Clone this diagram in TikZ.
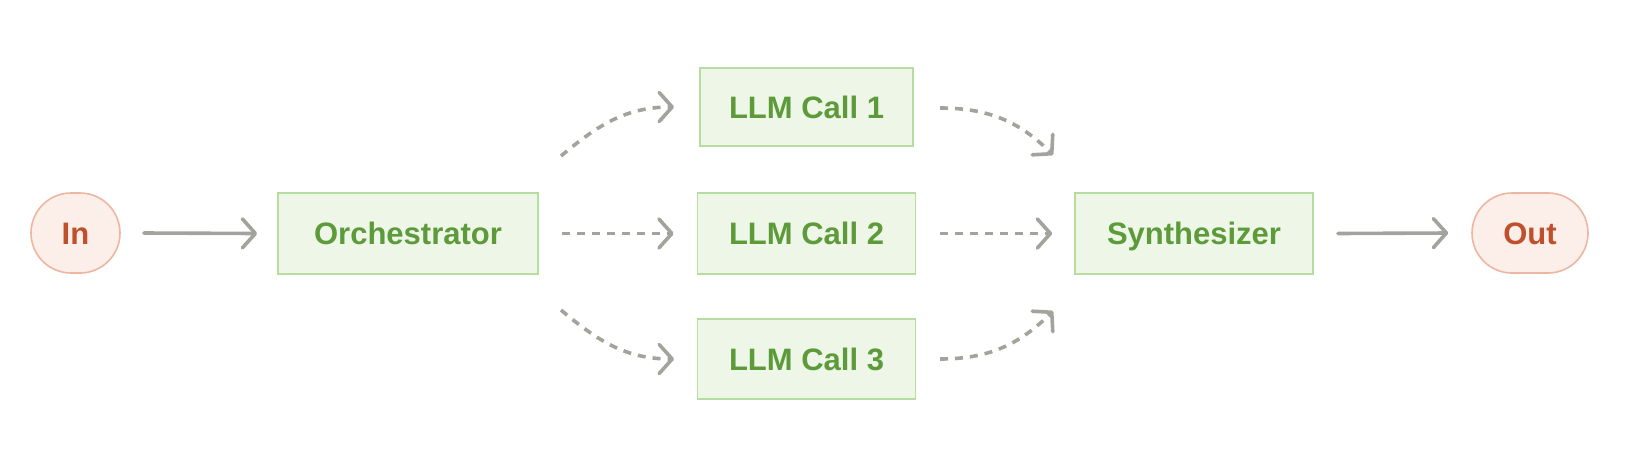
\documentclass[tikz,border=0pt]{standalone}
\usepackage{fontspec}
\setmainfont{Liberation Sans}
\usetikzlibrary{arrows.meta,shapes.misc}
\definecolor{gfill}{HTML}{EEF6E8}
\definecolor{gdraw}{HTML}{B6DCA0}
\definecolor{gtext}{HTML}{5C9A3A}
\definecolor{rfill}{HTML}{FCEEE8}
\definecolor{rdraw}{HTML}{EDB6A0}
\definecolor{rtext}{HTML}{C0502C}
\definecolor{arr}{HTML}{A3A39E}
\tikzset{
  lbl/.style={font=\fontsize{31}{36}\selectfont\bfseries, text height=22pt, text depth=0pt},
  box/.style={draw=gdraw, fill=gfill, line width=1.6pt, text=gtext, inner sep=0pt, lbl},
  term/.style={draw=rdraw, fill=rfill, line width=1.6pt, text=rtext, inner sep=0pt,
    rounded rectangle, lbl},
  solidarrow/.style={draw=arr, line width=3.6pt, line cap=round,
    -{Straight Barb[length=13pt,width=29pt,line cap=round,line join=round]}},
  dasharrow/.style={draw=arr, line width=3.6pt,
    dash pattern=on 8pt off 7pt,
    -{Straight Barb[length=13pt,width=29pt,line cap=round,line join=round]}}
}
\begin{document}
\begin{tikzpicture}[x=1pt,y=-1pt]
\useasboundingbox (0,0) rectangle (1627,453);
\node[term, minimum width=89pt, minimum height=80pt] (in) at (75.5,233) {In};
\node[box, minimum width=260pt, minimum height=81pt] (orch) at (408,233.5) {Orchestrator};
\node[box, minimum width=213pt, minimum height=78pt] (c1) at (806.5,107) {LLM Call 1};
\node[box, minimum width=218pt, minimum height=81pt] (c2) at (806.5,233.5) {LLM Call 2};
\node[box, minimum width=218pt, minimum height=80pt] (c3) at (806.5,359) {LLM Call 3};
\node[box, minimum width=238pt, minimum height=81pt] (syn) at (1194,233.5) {Synthesizer};
\node[term, minimum width=116pt, minimum height=80pt] (out) at (1530,233) {Out};

\coordinate (a1s) at (561,156);
\coordinate (a1e) at (674,107);
\coordinate (a3s) at (561,310);
\coordinate (a3e) at (674,359);
\coordinate (b1s) at (940,108);
\coordinate (b1e) at (1053,155);
\coordinate (b3s) at (940,359);
\coordinate (b3e) at (1053,311);

\draw[solidarrow] ([xshift=23pt]in.east) -- ([xshift=-20pt]orch.west);
\draw[solidarrow] ([xshift=24pt]syn.east) -- ([xshift=-23pt]out.west);

\draw[dasharrow] ([xshift=23pt]orch.east) -- ([xshift=-23pt]c2.west);
\draw[dasharrow] ([xshift=24pt]c2.east) -- ([xshift=-22pt]syn.west);

\draw[dasharrow] (a1s) to[out=40,in=180] (a1e);
\draw[dasharrow] (a3s) to[out=-40,in=180] (a3e);
\draw[dasharrow] (b1s) to[out=0,in=135] (b1e);
\draw[dasharrow] (b3s) to[out=0,in=-135] (b3e);
\end{tikzpicture}
\end{document}
